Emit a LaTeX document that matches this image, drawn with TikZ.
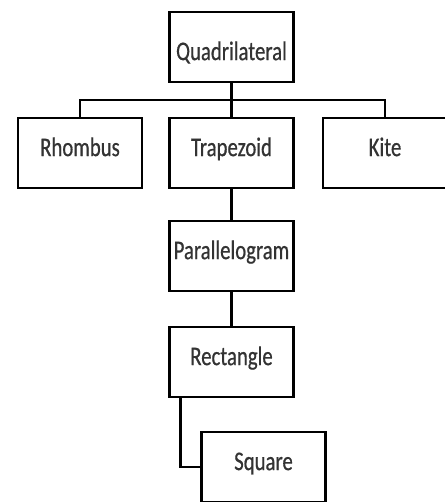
\documentclass[tikz,border=0pt]{standalone}
\usepackage{fontspec}
\setmainfont{Carlito}
\newfontfamily\boxfont[FakeStretch=0.77,FakeBold=0.6]{Carlito}
\begin{document}
\begin{tikzpicture}[x=0.03cm,y=-0.03cm,
    shapebox/.style={draw=black, fill=white, line width=2.5pt, minimum width=3.72cm,
        minimum height=2.1cm, text=black!80, text height=1.1ex, text depth=0pt,
        font=\boxfont\fontsize{23}{26}\selectfont},
    link/.style={draw=black, line width=2.5pt}]
  \useasboundingbox (0,0) rectangle (444,502);
  %\node at (222,0) {Family of quadrilaterals};
  \coordinate (bar) at (231.5,100);
  \draw[link] (231.5,47) -- (bar);
  \foreach \name/\x/\y/\label in {
        quad/231.5/47/{\raisebox{-0.3cm}{Quadrilateral}},
        rhombus/80/153/Rhombus,
        trapezoid/231.5/153/Trapezoid,
        kite/385/153/Kite,
        para/231.5/256/Parallelogram,
        rect/231.5/362/Rectangle,
        square/263.5/467/Square
  } {
       \node[shapebox] (\name) at (\x,\y) {\label};
  }
  \draw[link] (rhombus.north) |- (bar) -| (kite.north);
  \draw[link] (bar) -- (trapezoid.north);
  \draw[link] (trapezoid) -- (para);
  \draw[link] (para) -- (rect);
  \draw[link] ([xshift=0.375cm]rect.south west) |- (square.west);
\end{tikzpicture}
\end{document}
